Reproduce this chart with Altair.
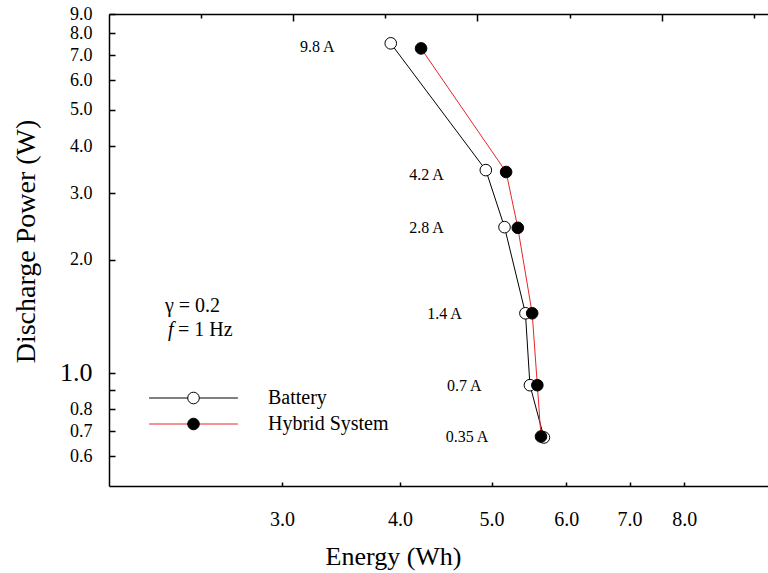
import altair as alt
import pandas as pd

SERIF = "Liberation Serif"
RED = "#e8262a"

# ---- data ----
currents = ["9.8 A", "4.2 A", "2.8 A", "1.4 A", "0.7 A", "0.35 A"]
battery_energy = [3.91, 4.93, 5.16, 5.43, 5.49, 5.68]
battery_power = [7.52, 3.46, 2.44, 1.44, 0.927, 0.673]
hybrid_energy = [4.21, 5.18, 5.33, 5.52, 5.59, 5.64]
hybrid_power = [7.29, 3.42, 2.43, 1.44, 0.927, 0.677]
label_energy = [3.41, 4.45, 4.45, 4.65, 4.88, 4.96]
label_power = [7.35, 3.36, 2.43, 1.43, 0.922, 0.675]

x_ticks = [3, 4, 5, 6, 7, 8]
y_labels = [0.6, 0.7, 0.8, 1, 2, 3, 4, 5, 6, 7, 8, 9]
y_ticks = [0.6, 0.7, 0.8, 0.9, 1, 2, 3, 4, 5, 6, 7, 8, 9]
top_major = [2, 4, 6]
top_minor = [1, 3, 5, 7]

lines_df = pd.DataFrame({
    "energy": battery_energy + hybrid_energy,
    "power": battery_power + hybrid_power,
    "series": ["Battery"] * 6 + ["Hybrid System"] * 6,
})
points_df = pd.DataFrame({
    "energy": battery_energy + hybrid_energy,
    "power": battery_power + hybrid_power,
    "system": ["Battery"] * 6 + ["Hybrid System"] * 6,
})
labels_df = pd.DataFrame({"e": label_energy, "p": label_power, "current": currents})

xscale = alt.Scale(type="log", domain=[1.967, 9.81], nice=False)
yscale = alt.Scale(type="log", domain=[0.5, 9.0], nice=False)

legend_common = dict(orient="none", legendX=74.5, legendY=374, title=None, padding=0,
                     labelFont=SERIF, labelFontSize=20, labelColor="black",
                     labelOffset=64.5, rowPadding=6)

lines = alt.Chart(lines_df).mark_line(strokeWidth=1).encode(
    x=alt.X("energy:Q", scale=xscale, axis=alt.Axis(
        orient="bottom", values=x_ticks, format=".1f", ticks=False, tickSize=0,
        labelPadding=23, labelFontSize=20, labelFont=SERIF, labelColor="black",
        labelFlush=False, labelOverlap=False,
        domainColor="black", domainWidth=1.5, grid=False,
        title="Energy (Wh)", titleFont=SERIF, titleFontSize=26, titleFontWeight="normal",
        titleColor="black", titleX=284, titleY=78, titleBaseline="alphabetic")),
    y=alt.Y("power:Q", scale=yscale, axis=alt.Axis(
        orient="left", values=y_labels, format=".1f", ticks=False, tickSize=0,
        labelPadding=17, labelFont=SERIF, labelColor="black", labelOverlap=False,
        labelFontSize={"condition": {"test": "datum.value == 1", "value": 26}, "value": 18},
        domainColor="black", domainWidth=1.5, grid=False,
        title="Discharge Power (W)", titleFont=SERIF, titleFontSize=28, titleFontWeight="normal",
        titleColor="black", titleX=-75, titleY=227, titleBaseline="alphabetic", titleAngle=-90)),
    color=alt.Color("series:N", scale=alt.Scale(range=["black", RED]), legend=alt.Legend(
        symbolType="M-7.4,0H7.4", symbolSize=144, symbolStrokeWidth=1, **legend_common)),
    order=alt.Order("power:Q"),
)

points = alt.Chart(points_df).mark_point(
    filled=True, size=135, stroke="black", strokeWidth=1, opacity=1
).encode(
    x=alt.X("energy:Q", scale=xscale, axis=alt.Axis(
        orient="bottom", values=x_ticks, labels=False, domain=False, ticks=True,
        tickSize=4, offset=-4, tickColor="black", tickWidth=1.5, grid=False, title=None)),
    y=alt.Y("power:Q", scale=yscale, axis=alt.Axis(
        orient="left", values=y_ticks, labels=False, domain=False, ticks=True,
        tickSize=6, offset=-6, tickColor="black", tickWidth=1.5, grid=False, title=None)),
    fill=alt.Fill("system:N", scale=alt.Scale(range=["white", "black"]), legend=alt.Legend(
        symbolType="circle", symbolSize=135, symbolStrokeColor="black", symbolStrokeWidth=1,
        labelOpacity=0, **legend_common)),
)

labels = alt.Chart(labels_df).mark_text(
    align="right", baseline="middle", font=SERIF, fontSize=16, color="black"
).encode(
    x=alt.X("e:Q", scale=xscale, axis=alt.Axis(
        orient="top", domain=True, domainColor="black", domainWidth=1.5, ticks=False,
        labels=False, grid=False, title=None)),
    y=alt.Y("p:Q", scale=yscale, axis=None),
    text="current:N",
)

top_scale = alt.Scale(domain=[0, 7.155], nice=False, zero=False)
top_maj = alt.Chart(pd.DataFrame({"t": top_major})).mark_text(text="").encode(
    x=alt.X("t:Q", scale=top_scale, axis=alt.Axis(
        orient="top", values=top_major, offset=-7, tickSize=7, tickColor="black",
        tickWidth=1.5, domain=False, labels=False, grid=False, title=None)))
top_min = alt.Chart(pd.DataFrame({"t": top_minor})).mark_text(text="").encode(
    x=alt.X("t:Q", scale=top_scale, axis=alt.Axis(
        orient="top", values=top_minor, offset=-4, tickSize=4, tickColor="black",
        tickWidth=1.5, domain=False, labels=False, grid=False, title=None)))

ann_gamma = alt.Chart(pd.DataFrame({"t": ["γ = 0.2"]})).mark_text(
    align="left", baseline="middle", font=SERIF, fontSize=20, color="black"
).encode(text="t:N", x=alt.value(56), y=alt.value(292))
ann_f = alt.Chart(pd.DataFrame({"t": ["f"]})).mark_text(
    align="left", baseline="middle", font=SERIF, fontSize=20, fontStyle="italic", color="black"
).encode(text="t:N", x=alt.value(59), y=alt.value(316))
ann_hz = alt.Chart(pd.DataFrame({"t": ["= 1 Hz"]})).mark_text(
    align="left", baseline="middle", font=SERIF, fontSize=20, color="black"
).encode(text="t:N", x=alt.value(69), y=alt.value(316))

chart = alt.layer(
    lines, points, labels, top_maj, top_min, ann_gamma, ann_f, ann_hz
).resolve_scale(x="independent").resolve_axis(x="independent", y="independent").properties(
    width=659, height=472,
    padding={"left": 109, "top": 14, "right": 0, "bottom": 87},
    autosize=alt.AutoSizeParams(type="none"),
    background="white",
).configure_view(stroke=None)

chart.save("out.html", embed_options={"renderer": "svg", "actions": False})
